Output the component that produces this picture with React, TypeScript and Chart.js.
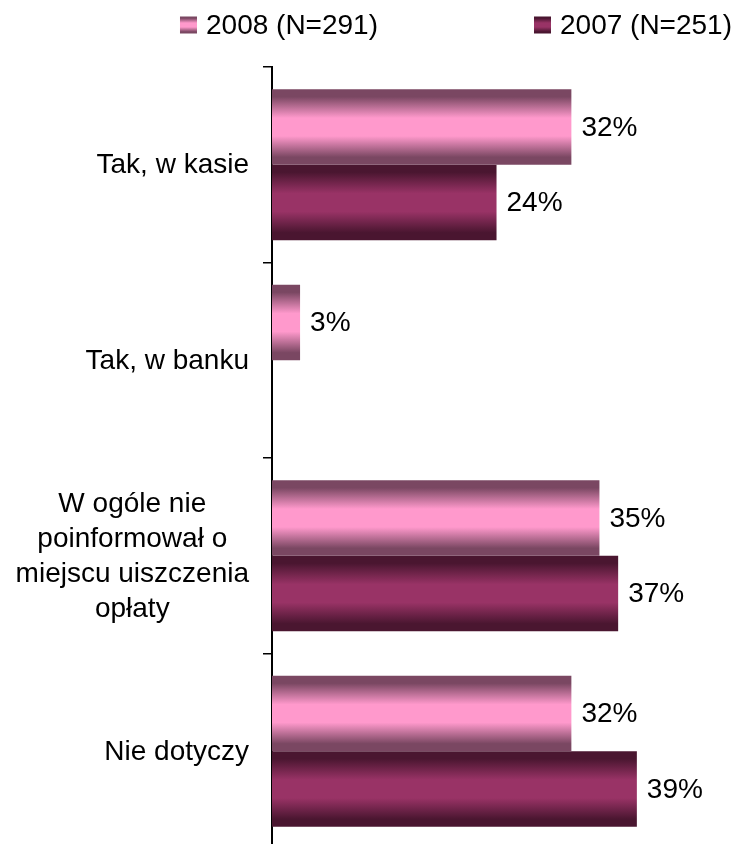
import React, { useEffect, useRef } from "react";
import { Chart, registerables } from "chart.js";

Chart.register(...registerables);

const categories: string[][] = [
  ["Tak, w kasie"],
  ["Tak, w banku"],
  ["W ogóle nie", "poinformował o", "miejscu uiszczenia", "opłaty"],
  ["Nie dotyczy"],
];
const seriesNames = ["2008 (N=291)", "2007 (N=251)"];
const values2008: (number | null)[] = [32, 3, 35, 32];
const values2007: (number | null)[] = [24, null, 37, 39];

const FONT = '"Liberation Sans", Arial, sans-serif';
const FONT_SIZE = 28;
const CAT_PCT = 0.772;

const palettes = [
  { edge: "#7a4762", mid: "#ff99cc" },
  { edge: "#4a1630", mid: "#993366" },
];

function makeGradient(ctx: CanvasRenderingContext2D, top: number, h: number, p: { edge: string; mid: string }) {
  const g = ctx.createLinearGradient(0, top, 0, top + h);
  g.addColorStop(0, p.edge);
  g.addColorStop(0.1, p.edge);
  g.addColorStop(0.38, p.mid);
  g.addColorStop(0.62, p.mid);
  g.addColorStop(0.9, p.edge);
  g.addColorStop(1, p.edge);
  return g;
}

const barFill = (dsIndex: number) => (c: any) => {
  const chart = c.chart;
  const ys = chart.scales?.y;
  if (c.type !== "data" || !ys || !chart.chartArea) return palettes[dsIndex].mid;
  const catH = ys.height / categories.length;
  const full = catH * CAT_PCT;
  const size = full / 2;
  const center = ys.getPixelForValue(c.dataIndex);
  const top = center - full / 2 + dsIndex * size;
  return makeGradient(chart.ctx, top, size, palettes[dsIndex]);
};

const yLabelPlugin = {
  id: "yLabels",
  afterDraw(chart: any) {
    const ctx = chart.ctx as CanvasRenderingContext2D;
    const ys = chart.scales.y;
    const rightEdge = chart.chartArea.left - 23;
    const lineH = 35;
    ctx.save();
    ctx.font = `${FONT_SIZE}px ${FONT}`;
    ctx.fillStyle = "#000";
    ctx.textAlign = "center";
    ctx.textBaseline = "middle";
    categories.forEach((lines, i) => {
      const maxW = Math.max(...lines.map((l) => ctx.measureText(l).width));
      const cx = rightEdge - maxW / 2;
      const cy = ys.getPixelForValue(i);
      lines.forEach((line, j) => {
        ctx.fillText(line, cx, cy + (j - (lines.length - 1) / 2) * lineH + 1);
      });
    });
    ctx.restore();
  },
};

const valueLabelPlugin = {
  id: "valueLabels",
  afterDatasetsDraw(chart: any) {
    const ctx = chart.ctx as CanvasRenderingContext2D;
    ctx.save();
    ctx.font = `${FONT_SIZE}px ${FONT}`;
    ctx.fillStyle = "#000";
    ctx.textAlign = "left";
    ctx.textBaseline = "middle";
    chart.data.datasets.forEach((ds: any, di: number) => {
      const meta = chart.getDatasetMeta(di);
      meta.data.forEach((el: any, i: number) => {
        const v = ds.data[i];
        if (v === null || v === undefined) return;
        ctx.fillText(`${v}%`, el.x + 10, el.y + 1);
      });
    });
    ctx.restore();
  },
};

const legendPlugin = {
  id: "customLegend",
  afterDraw(chart: any) {
    const ctx = chart.ctx as CanvasRenderingContext2D;
    const box = 17;
    const boxGap = 9;
    const itemGap = 156;
    const cy = 25;
    ctx.save();
    ctx.font = `${FONT_SIZE}px ${FONT}`;
    ctx.textBaseline = "middle";
    ctx.textAlign = "left";
    let x = 732;
    const items = chart.data.datasets.map((d: any, i: number) => ({ label: d.label as string, i }));
    for (let k = items.length - 1; k >= 0; k--) {
      const it = items[k];
      const w = ctx.measureText(it.label).width;
      const textX = x - w;
      const boxX = textX - boxGap - box;
      ctx.fillStyle = makeGradient(ctx, cy - box / 2, box, palettes[it.i]);
      ctx.fillRect(boxX, cy - box / 2, box, box);
      ctx.fillStyle = "#000";
      ctx.fillText(it.label, textX, cy + 1);
      x = boxX - itemGap;
    }
    ctx.restore();
  },
};

export default function App() {
  const ref = useRef<HTMLCanvasElement | null>(null);
  useEffect(() => {
    if (!ref.current) return;
    const chart = new Chart(ref.current, {
      type: "bar",
      data: {
        labels: categories.map((c) => c.join(" ")),
        datasets: [
          {
            label: seriesNames[0],
            data: values2008,
            backgroundColor: barFill(0),
            borderWidth: 0,
            categoryPercentage: CAT_PCT,
            barPercentage: 1,
          },
          {
            label: seriesNames[1],
            data: values2007,
            backgroundColor: barFill(1),
            borderWidth: 0,
            categoryPercentage: CAT_PCT,
            barPercentage: 1,
          },
        ],
      },
      options: {
        indexAxis: "y",
        responsive: false,
        animation: false,
        devicePixelRatio: 1,
        layout: { padding: { top: 67, bottom: 3, left: 0, right: 42 } },
        plugins: {
          legend: { display: false },
          tooltip: { enabled: false },
          title: { display: false },
        },
        scales: {
          x: { display: false, min: 0, max: 45 },
          y: {
            type: "category",
            display: true,
            grid: {
              display: true,
              drawOnChartArea: false,
              drawTicks: true,
              tickLength: 9,
              color: "#000",
              lineWidth: 1.5,
              offset: true,
            },
            border: { display: true, color: "#000", width: 2 },
            ticks: { display: false },
            afterFit: (scale: any) => {
              scale.width = 272;
            },
          },
        },
      },
      plugins: [yLabelPlugin, valueLabelPlugin, legendPlugin],
    });
    return () => chart.destroy();
  }, []);
  return (
    <div
      style={{
        position: "absolute",
        left: 0,
        top: 0,
        width: 735,
        height: 844,
        overflow: "hidden",
        background: "#fff",
      }}
    >
      <canvas ref={ref} width={735} height={852} style={{ display: "block" }} />
    </div>
  );
}
